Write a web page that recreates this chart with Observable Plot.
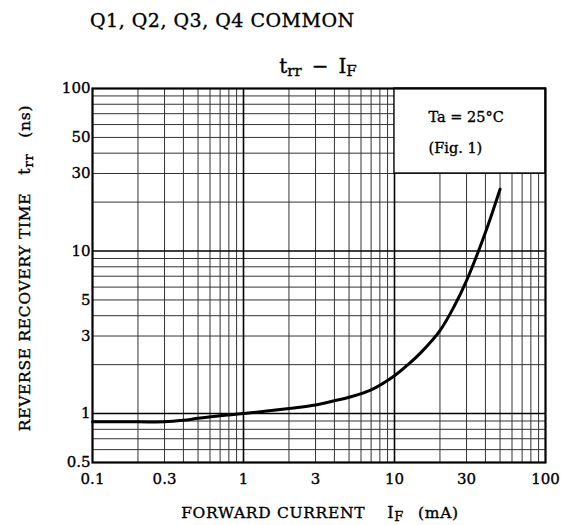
<!DOCTYPE html>
<html>
<head>
<meta charset="utf-8">
<script src="https://cdn.jsdelivr.net/npm/d3@7"></script>
<script src="https://cdn.jsdelivr.net/npm/@observablehq/plot@0.6"></script>
<style>
  html, body { margin: 0; padding: 0; background: #fff; }
  svg text { font-family: "DejaVu Serif", serif; stroke: #000; stroke-width: 0.35px; }
</style>
</head>
<body>
<div id="chart"></div>
<script>
// Curve: reverse recovery time trr (ns) vs forward current IF (mA)
const forwardCurrent = [0.1, 0.2, 0.3, 0.4, 0.5, 0.7, 1, 2, 3, 4, 5, 7, 10, 12.5, 15, 20, 25, 30, 40, 50];
const recoveryTime   = [0.89, 0.89, 0.89, 0.91, 0.935, 0.97, 1.0, 1.075, 1.13, 1.2, 1.26, 1.4, 1.71, 2.03, 2.38, 3.24, 4.62, 6.58, 13, 24];

const xTicks = [0.1, 0.3, 1, 3, 10, 30, 100];
const yTicks = [0.5, 1, 3, 5, 10, 30, 50, 100];
const xMajorGrid = [1, 10];
const yMajorGrid = [1, 10];
const xMinorGrid = [0.2,0.3,0.4,0.5,0.6,0.7,0.8,0.9,2,3,4,5,6,7,8,9,20,30,40,50,60,70,80,90];
const yMinorGrid = [0.6,0.7,0.8,0.9,2,3,4,5,6,7,8,9,20,30,40,50,60,70,80,90];
const noteLines = ["Ta = 25°C", "(Fig. 1)"];

const data = forwardCurrent.map((x, i) => ({x, y: recoveryTime[i]}));

const chart = Plot.plot({
  width: 567,
  height: 525,
  marginLeft: 92,
  marginRight: 22,
  marginTop: 88,
  marginBottom: 63,
  style: {fontFamily: "DejaVu Serif, serif", fontSize: "15px", background: "#fff", color: "#000"},
  x: {type: "log", domain: [0.1, 100], label: null},
  y: {type: "log", domain: [0.5, 100], label: null},
  marks: [
    Plot.ruleX(xMinorGrid, {stroke: "#333", strokeWidth: 1}),
    Plot.ruleY(yMinorGrid, {stroke: "#333", strokeWidth: 1}),
    Plot.ruleX(xMajorGrid, {stroke: "#000", strokeWidth: 1.6}),
    Plot.ruleY(yMajorGrid, {stroke: "#000", strokeWidth: 1.6}),
    Plot.rect([{}], {x1: 10, x2: 100, y1: 30, y2: 100, fill: "#fff", stroke: "#000", strokeWidth: 1.3}),
    Plot.text([noteLines[0]], {x: 16.8, y: 66, text: d => d, textAnchor: "start", fontSize: 14.5}),
    Plot.text([noteLines[1]], {x: 16.8, y: 43, text: d => d, textAnchor: "start", fontSize: 14.5}),
    Plot.line(data, {x: "x", y: "y", curve: "catmull-rom", stroke: "#000", strokeWidth: 3}),
    Plot.frame({stroke: "#000", strokeWidth: 2.2}),
    // tick labels
    Plot.text(xTicks, {x: d => d, frameAnchor: "bottom", dy: 17, text: d => String(d), fontSize: 15, lineAnchor: "middle"}),
    Plot.text(yTicks, {y: d => d, frameAnchor: "left", dx: -2, textAnchor: "end", text: d => String(d), fontSize: 15})
  ]
});
d3.select(chart).selectAll("[aria-label='x-axis tick'], [aria-label='y-axis tick'], [aria-label='x-axis tick label'], [aria-label='y-axis tick label']").remove();

document.getElementById("chart").appendChild(chart);

const svg = d3.select(chart);

// Title
svg.append("text")
  .attr("x", 90).attr("y", 27)
  .attr("text-anchor", "start")
  .attr("font-size", 19)
  .attr("letter-spacing", 0.5)
  .attr("fill", "#000")
  .text("Q1, Q2, Q3, Q4 COMMON");

// Subtitle t_rr − I_F
const sub = svg.append("text")
  .attr("x", 318).attr("y", 73)
  .attr("text-anchor", "middle")
  .attr("font-size", 20)
  .attr("fill", "#000");
sub.append("tspan").text("t");
sub.append("tspan").attr("font-size", 15).attr("dy", 3).text("rr");
sub.append("tspan").attr("dy", -3).attr("dx", 10).text("\u2212");
sub.append("tspan").attr("dx", 10).text("I");
sub.append("tspan").attr("font-size", 15).attr("dy", 3).text("F");

// X axis label
const xl = svg.append("text")
  .attr("x", 320).attr("y", 518)
  .attr("text-anchor", "middle")
  .attr("font-size", 15.5)
  .attr("letter-spacing", 0.7)
  .attr("fill", "#000");
xl.append("tspan").text("FORWARD CURRENT");
xl.append("tspan").attr("dx", 22).attr("font-size", 16).text("I");
xl.append("tspan").attr("font-size", 13).attr("dy", 3).text("F");
xl.append("tspan").attr("dx", 14).attr("dy", -3).text("(mA)");

// Y axis label
const yl = svg.append("text")
  .attr("transform", "translate(30,268) rotate(-90)")
  .attr("text-anchor", "middle")
  .attr("font-size", 15.5)
  .attr("letter-spacing", 0.7)
  .attr("fill", "#000");
yl.append("tspan").text("REVERSE RECOVERY TIME");
yl.append("tspan").attr("dx", 18).attr("font-size", 16).text("t");
yl.append("tspan").attr("font-size", 13).attr("dy", 3).text("rr");
yl.append("tspan").attr("dx", 16).attr("dy", -3).text("(ns)");
</script>
</body>
</html>
